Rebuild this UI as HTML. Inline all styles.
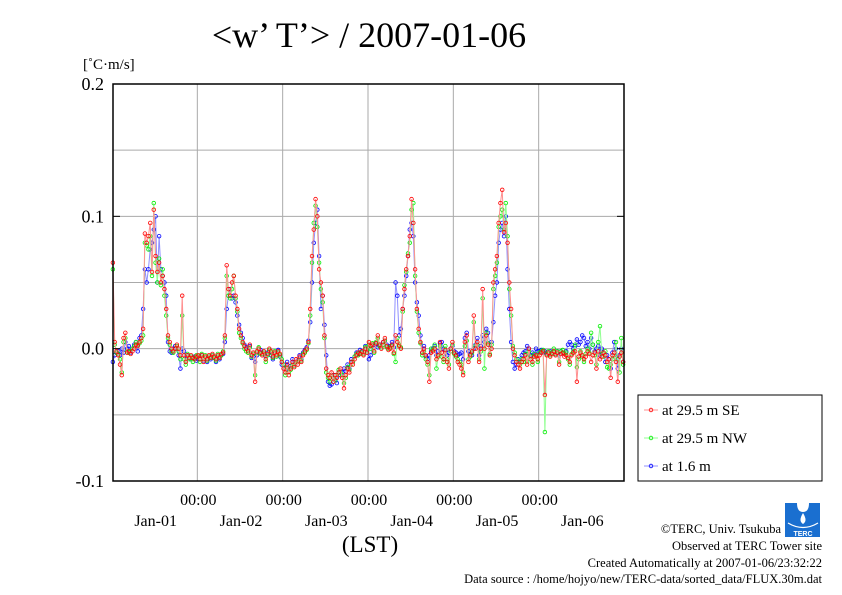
<!DOCTYPE html>
<html><head><meta charset="utf-8"><style>
body{margin:0;background:#fff;}
svg{display:block;font-family:"Liberation Serif",serif;}
</style></head><body>
<svg id="chart" width="842" height="595" viewBox="0 0 842 595" xmlns="http://www.w3.org/2000/svg">
<rect width="842" height="595" fill="#fff"/>
<text x="369" y="47" font-size="36" text-anchor="middle">&lt;w’ T’&gt; / 2007-01-06</text>
<text x="83" y="69" font-size="15">[˚C·m/s]</text>
<g id="grid"></g>
<g id="series"></g>
<rect x="113" y="84" width="511" height="397" fill="none" stroke="#000" stroke-width="1.5"/>
<g id="axes"></g>
<text x="370" y="552" font-size="23" text-anchor="middle">(LST)</text>
<g>
<rect x="638" y="395" width="184" height="86" fill="#fff" stroke="#000" stroke-width="1"/>
<g id="legend-entries"></g>
</g>
<g>
<path d="M785 503 L797 503 Q797 512 803 512 Q809 512 809 503 L820 503 L820 537 L785 537Z" fill="#1a6fd0"/>
<path d="M803 513 Q798 521 803 524 Q808 521 803 513Z" fill="#fff"/>
<path d="M788 523 Q803 532 818 523" fill="none" stroke="#fff" stroke-width="1.2"/>
<text x="803" y="536" font-size="7" fill="#fff" text-anchor="middle" font-family="Liberation Sans,sans-serif" font-weight="bold">TERC</text>
</g>
<g font-size="12.5" text-anchor="end">
<text x="781" y="533">©TERC, Univ. Tsukuba</text>
<text x="822" y="550">Observed at TERC Tower site</text>
<text x="822" y="567">Created Automatically at 2007-01-06/23:32:22</text>
<text x="822" y="583">Data source : /home/hojyo/new/TERC-data/sorted_data/FLUX.30m.dat</text>
</g>
</svg>
<script>
const yTicks=[0.2,0.1,0.0,-0.1];
const yTickLabels=["0.2","0.1","0.0","-0.1"];
const yGrid=[0.15,0.1,0.05,0,-0.05];
const dayLabels=["Jan-01","Jan-02","Jan-03","Jan-04","Jan-05","Jan-06"];
const seriesNames=["at 29.5 m SE","at 29.5 m NW","at 1.6 m"];
const seSE=[65,5,-2,-5,-12,-20,8,12,-3,-2,-4,-2,0,3,2,5,8,15,87,80,85,95,58,105,70,58,65,50,55,45,30,10,5,0,-2,0,3,0,-5,40,-5,-10,-5,-7,-5,-7,-8,-6,
-5,-8,-5,-10,-6,-8,-5,-7,-4,-6,-8,-5,-7,-4,-3,10,63,45,40,50,55,40,30,15,10,5,2,0,-2,3,-5,-3,-25,-2,0,-3,-5,-2,-8,-4,0,-2,-6,-3,-5,-2,-4,-10,
-15,-18,-12,-20,-15,-10,-14,-8,-12,-6,-10,-5,-2,0,5,30,70,90,113,100,60,50,40,10,-15,-20,-22,-18,-25,-20,-22,-18,-15,-22,-30,-20,-15,-18,-10,-12,-8,-5,-3,-4,-2,-5,0,-3,
5,2,3,-2,4,10,3,0,5,8,2,-1,0,3,-3,10,5,2,0,30,45,60,70,85,113,95,60,30,15,5,-3,0,-5,-10,-25,-3,-2,0,-8,-5,5,-3,-8,-1,-10,-15,0,5,
-3,-5,-10,-12,-15,-20,5,10,-10,-5,-2,25,0,5,-10,0,45,0,10,3,-5,0,50,60,70,95,110,120,88,95,80,50,30,0,-5,-10,-12,-15,-10,-8,-5,-12,0,-8,-10,-6,-5,-8,
-5,-3,-2,-35,-5,-3,-6,-4,-2,-5,-3,-12,-4,-3,-6,-5,-7,-10,-5,-3,-2,-25,-6,-3,-5,-8,-6,-2,-4,-10,-5,-3,-15,-2,-8,-6,-3,-5,-10,-8,-22,-5,-3,-10,-25,-6,-3,-10];
const seNW=[60,3,-3,-4,-8,-18,5,8,-2,-3,-2,0,2,5,3,4,6,10,80,78,75,85,55,110,65,50,68,48,60,40,25,8,3,-2,-3,0,2,-2,-8,25,-8,-12,-4,-8,-6,-10,-7,-5,
-6,-10,-4,-8,-5,-9,-6,-6,-5,-7,-9,-4,-6,-5,-2,8,55,40,38,45,55,38,28,12,8,4,0,-2,-3,1,-6,-4,-20,-3,1,-4,-4,-3,-10,-5,-1,-3,-7,-2,-6,-3,-5,-8,
-12,-20,-14,-18,-16,-12,-13,-10,-10,-8,-9,-4,-3,-1,4,25,65,95,108,92,65,45,35,8,-18,-22,-25,-20,-22,-24,-20,-16,-18,-20,-26,-22,-14,-16,-12,-10,-6,-4,-5,-3,-3,-4,1,-2,
3,0,4,-3,5,8,2,1,3,6,1,0,1,2,-4,-10,8,3,1,28,48,58,72,80,105,110,55,28,12,4,-5,-2,-8,-12,-20,0,-1,3,-15,-6,2,-6,-10,2,-8,-12,-2,3,
-4,-6,-8,-10,-12,-18,2,6,-8,-6,-3,20,2,3,-8,-2,38,-15,12,4,-4,3,45,55,65,92,100,105,90,110,85,45,25,2,-3,-8,-10,-12,-8,-10,-4,-10,-2,-6,-12,-4,-6,-10,
-3,-2,-1,-63,-4,-2,-5,-3,0,-4,-2,-10,-2,-1,-4,-3,-8,-12,-4,-2,3,-14,-8,-2,-6,-10,-4,0,-3,12,3,-5,-12,5,17,-4,-6,-2,-14,-15,-12,-8,-5,5,-8,-18,8,-12];
const seLow=[-10,-5,-3,-2,-5,0,-3,5,0,2,-3,0,3,5,-2,8,10,30,60,50,60,75,80,90,100,50,85,60,55,50,40,5,-2,-3,0,2,0,-5,-15,0,-2,-8,-5,-6,-8,-7,-6,-9,
-8,-6,-5,-9,-7,-10,-6,-8,-5,-7,-10,-6,-8,-5,-4,5,30,40,45,38,40,35,25,18,12,8,3,1,-1,2,-7,-6,-10,-5,-2,-1,-3,-4,-6,-3,-2,-5,-8,-4,-3,-1,-6,-12,
-12,-15,-10,-16,-13,-8,-12,-10,-9,-5,-8,-3,-1,1,6,20,50,80,95,105,70,30,40,18,-5,-25,-28,-27,-20,-22,-26,-18,-20,-18,-15,-17,-12,-15,-8,-10,-6,-3,-4,-1,-2,-3,2,-1,
-8,-5,2,3,4,1,2,3,5,6,3,1,2,5,1,50,40,10,15,30,40,55,70,90,95,85,50,35,25,10,-3,2,-6,-8,-5,-2,0,2,-5,-2,4,5,0,-2,-5,-3,0,2,
-2,-3,-5,-4,-3,-8,8,12,-2,-4,-5,0,3,8,-5,2,10,5,15,12,3,5,20,40,50,80,90,95,85,100,60,30,5,-10,-15,-12,-8,-10,-5,-3,-2,2,0,-5,-3,-5,0,-2,
-2,-1,-3,-2,-3,-4,-2,-3,-2,-4,-2,-5,-2,-3,-4,-2,3,5,3,0,2,7,3,5,10,8,2,5,0,8,3,-2,0,2,-5,0,-3,-10,-5,-8,-15,-3,5,0,-15,-5,0,-10];

const NS="http://www.w3.org/2000/svg";
const X0=112,X1=624,Y0=84,Y1=481,YMAX=0.2,YMIN=-0.1,NDAYS=6,PER=48;
function xScale(i){return X0+(i/(NDAYS*PER))*(X1-X0);}
function yScale(v){return Y0+(YMAX-v)/(YMAX-YMIN)*(Y1-Y0);}
function mk(t,a,p){const e=document.createElementNS(NS,t);for(const k in a)e.setAttribute(k,a[k]);p.appendChild(e);return e;}
const grid=document.getElementById('grid'),axes=document.getElementById('axes');
yGrid.forEach(v=>{const l=mk('line',{x1:113,x2:624,y1:yScale(v),y2:yScale(v),stroke:'#aaa','stroke-width':1},grid);

});
for(let d=1;d<NDAYS;d++){const x=xScale(d*PER);const l=mk('line',{x1:x,x2:x,y1:84,y2:481,stroke:'#aaa','stroke-width':1},grid);


const t=mk('text',{x:x+1,y:505,'font-size':16,'text-anchor':'middle'},axes);t.textContent='00:00';

}
dayLabels.forEach((s,d)=>{const t=mk('text',{x:xScale(d*PER+24)+1,y:526,'font-size':16,'text-anchor':'middle'},axes);t.textContent=s;

});
yTicks.forEach((v,k)=>{const t=mk('text',{x:104,y:yScale(v)+6,'font-size':18,'text-anchor':'end'},axes);t.textContent=yTickLabels[k];


mk('line',{x1:113,x2:120,y1:yScale(v),y2:yScale(v),stroke:'#000'},axes);
mk('line',{x1:617,x2:624,y1:yScale(v),y2:yScale(v),stroke:'#000'},axes);});
const ser=document.getElementById('series');
const cols=[["#ff0000","#ff9090"],["#00ee00","#90ff90"],["#0000ff","#9090ff"]];
const data=[seSE,seNW,seLow];
[2,1,0].forEach(s=>{const g=mk('g',{},ser);


const pts=data[s].map((v,i)=>xScale(i+0.5).toFixed(1)+','+yScale(v/1000).toFixed(1)).join(' ');
mk('polyline',{points:pts,fill:'none',stroke:cols[s][1],'stroke-width':1},g);
data[s].forEach((v,i)=>{const c=mk('circle',{cx:xScale(i+0.5),cy:yScale(v/1000),r:1.8,fill:'none',stroke:cols[s][0],'stroke-width':0.8},g);

});});
const le=document.getElementById('legend-entries');
seriesNames.forEach((n,k)=>{const y=410+k*28;const g=mk('g',{},le);


mk('line',{x1:644,x2:658,y1:y,y2:y,stroke:cols[k][1]},g);
mk('circle',{cx:651,cy:y,r:1.8,fill:'none',stroke:cols[k][0],'stroke-width':0.8},g);
const t=mk('text',{x:662,y:y+5,'font-size':15},g);t.textContent=n;});
</script>
</body></html>
